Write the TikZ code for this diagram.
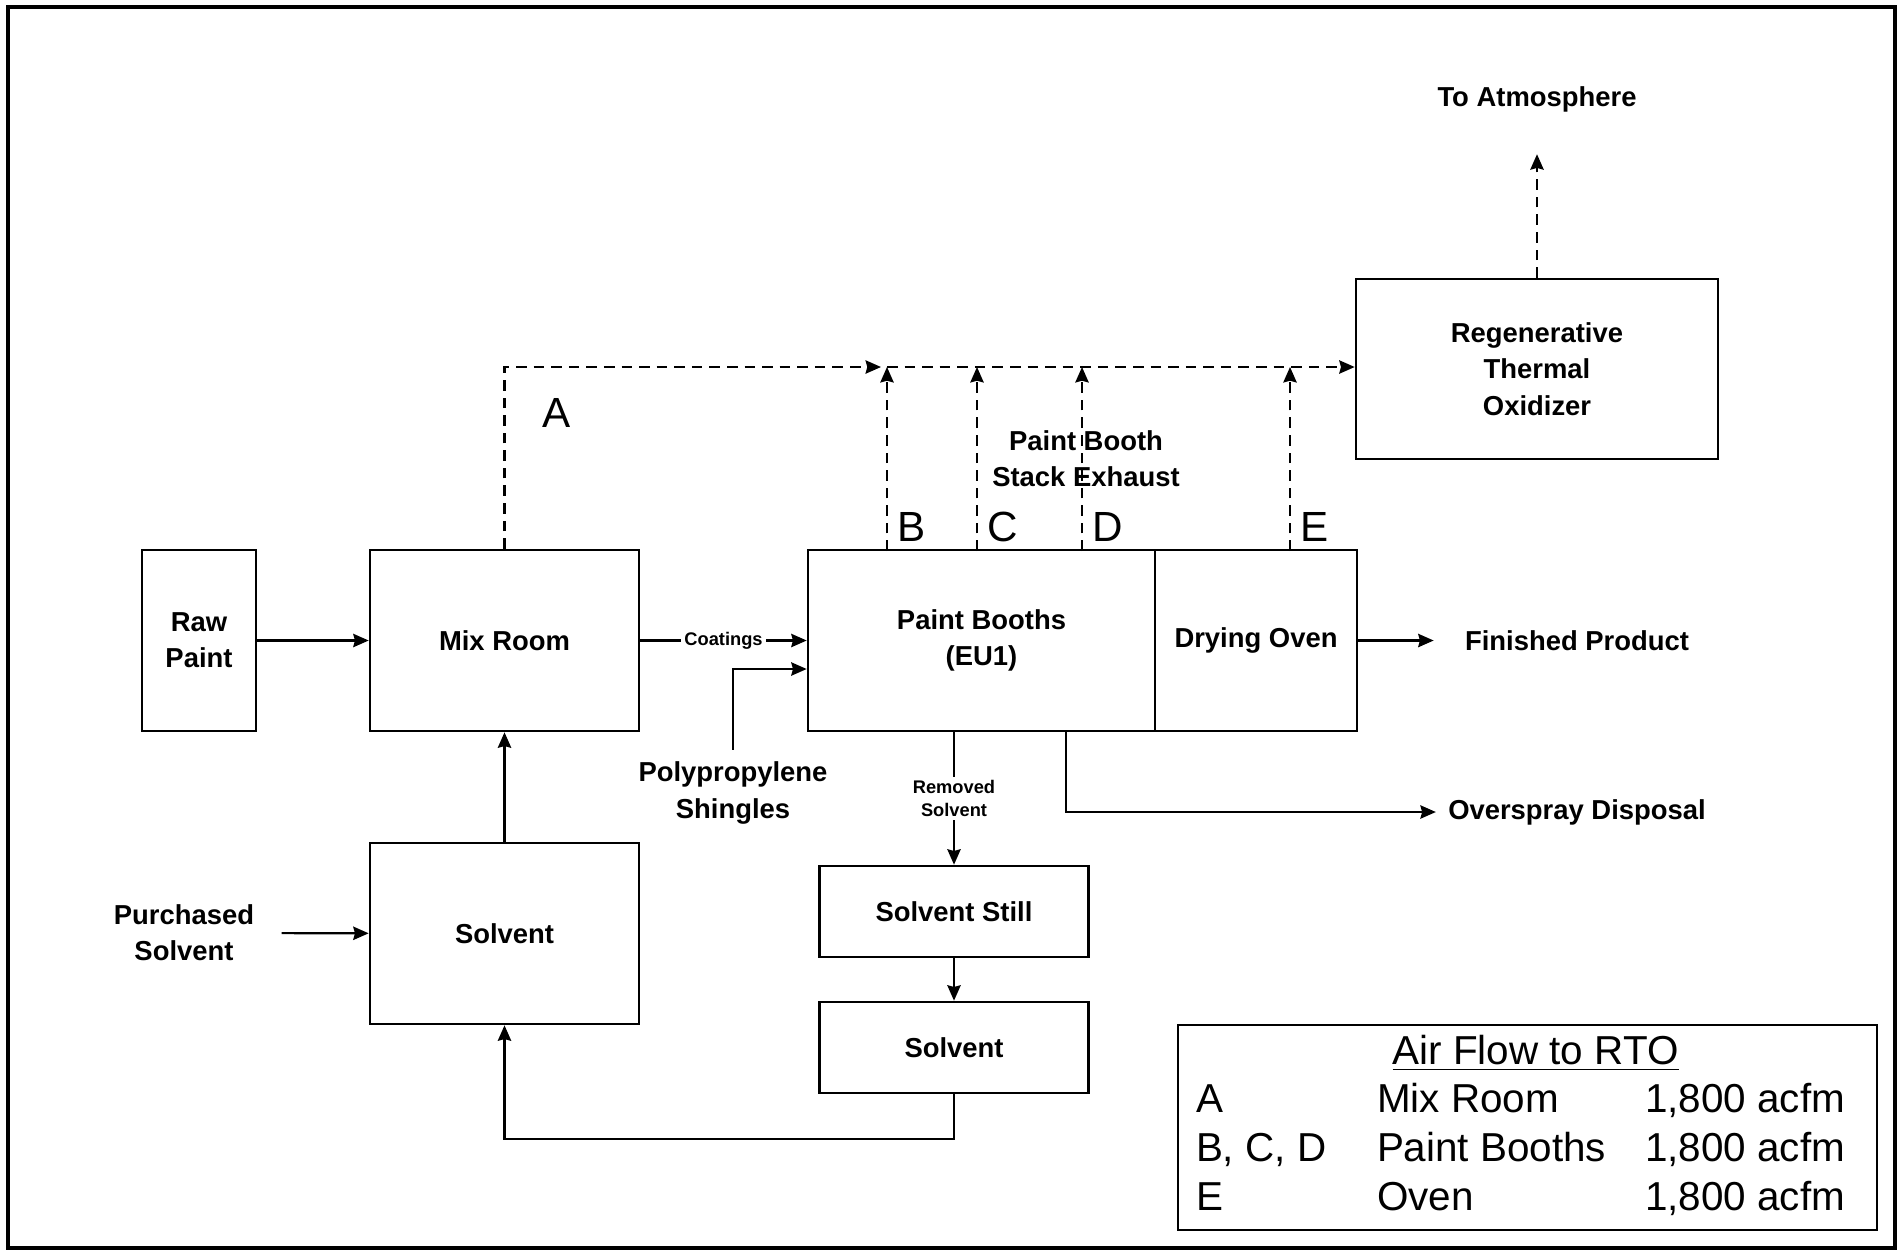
\documentclass[tikz,border=0pt]{standalone}
\usepackage{fontspec}
\setmainfont{Liberation Sans}
\usetikzlibrary{positioning, arrows.meta}
\tikzset{
>={Stealth[length=4.4pt, width=3.8pt, inset=0.5pt]}, % filled arrow heads
node distance=3cm, % overridden per node below
every node/.style={font=\bfseries\fontsize{7.8}{10.3}\selectfont, align=center},
box/.style={draw, line width=0.75pt, inner sep=0pt, minimum width=#1, minimum height=1.81cm}, % process boxes
flow/.style={->, line width=0.6pt}, % material streams
air/.style={->, line width=0.6pt, densely dashed}, % exhaust air to the RTO
tag/.style={font=\fontsize{12}{14}\selectfont, inner sep=0pt}, % stream letters
smalltxt/.style={font=\bfseries\fontsize{5.2}{6.5}\selectfont, fill=white, inner sep=1pt},
}

\begin{document}
\begin{tikzpicture}
\useasboundingbox (0,0) rectangle (19,-12.52);
\draw[line width=1.4pt] (0.08,-0.07) rectangle (18.95,-12.48);

% process boxes
\node[box=1.14cm] (raw) at (1.99,-6.405) {Raw\\Paint};
\node[box=2.69cm, right of=raw, node distance=3.055cm] (mix) {Mix Room};
\node[box=3.47cm, right of=mix, node distance=4.77cm] (booth) {Paint Booths\\(EU1)};
\node[box=2.02cm, right of=booth, node distance=2.745cm] (oven) {Drying Oven};
\node[box=3.62cm, minimum height=1.8cm] (rto) at (15.37,-3.69) {Regenerative\\Thermal\\Oxidizer};
\node[box=2.69cm, below of=mix, node distance=2.93cm] (solv) {Solvent};
\node[box=2.69cm, minimum height=0.91cm] (still) at (9.54,-9.115) {Solvent Still};
\node[box=2.69cm, minimum height=0.91cm, below of=still, node distance=1.36cm] (rsolv) {Solvent};

% free texts
\node (atm) at (15.37,-0.99) {To Atmosphere};
\node[right of=oven, node distance=3.21cm] (fin) {Finished Product};
\node (over) at (15.77,-8.12) {Overspray Disposal};
\node (purch) at (1.84,-9.33) {Purchased\\Solvent};
\node (poly) at (7.33,-7.93) {Polypropylene\\Shingles};
\node (stack) at (10.86,-4.59) {Paint Booth\\Stack Exhaust};
\node[tag] (tagA) at (5.57,-4.13) {A};

% material flow
\draw[flow] (raw) -- (mix);
\draw[flow] (mix) -- node[smalltxt]{Coatings} (booth);
\draw[flow] (poly.north) |- ([yshift=-0.285cm]booth.west);
\draw[flow, shorten >=0.19cm] (oven) -- (fin);
\draw[flow] ([xshift=0.845cm]booth.south) |- (over);
\draw[flow] (booth.south -| still) -- node[smalltxt]{Removed\\Solvent} (still);
\draw[flow] (still) -- (rsolv);
\draw[flow] (rsolv.south) -- ++(0,-0.45) -| (solv.south);
\draw[flow, shorten <=0.15cm] (purch) -- (solv);
\draw[flow] (solv) -- (mix);

% exhaust air
\foreach \x/\n in {8.87/B, 9.77/C, 10.82/D, 12.90/E} {
  \coordinate (top\n) at (\x,-3.67);
  \coordinate (bot\n) at (\x,-5.51);
  \draw[air] (bot\n) -- (top\n);
  \node[tag, anchor=base west] (tag\n) at ([xshift=0.1cm, yshift=0.1cm]bot\n) {\n};
}
\draw[air, shorten >=0.06cm] (mix.north) |- (topB);
\draw[air] (topB) -- (rto.west |- topB);
\draw[air, shorten >=0.3cm] (rto) -- (atm);

% legend
\node[draw, line width=0.75pt, inner sep=0pt, minimum width=6.99cm, minimum height=2.05cm, font=\fontsize{11.5}{13.9}\selectfont] (legend) at (15.275,-11.275) {%
  \hspace*{-0.14cm}\raisebox{-0.05cm}{\begin{tabular*}{6.49cm}{@{}p{1.81cm}@{}l@{\extracolsep{\fill}}r@{}}
  \multicolumn{3}{c}{\hspace{0.3cm}\underline{Air Flow to RTO}}\\
  A & Mix Room & 1,800 acfm\\
  B, C, D & Paint Booths & 1,800 acfm\\
  E & Oven & 1,800 acfm
  \end{tabular*}}};
\end{tikzpicture}
\end{document}
